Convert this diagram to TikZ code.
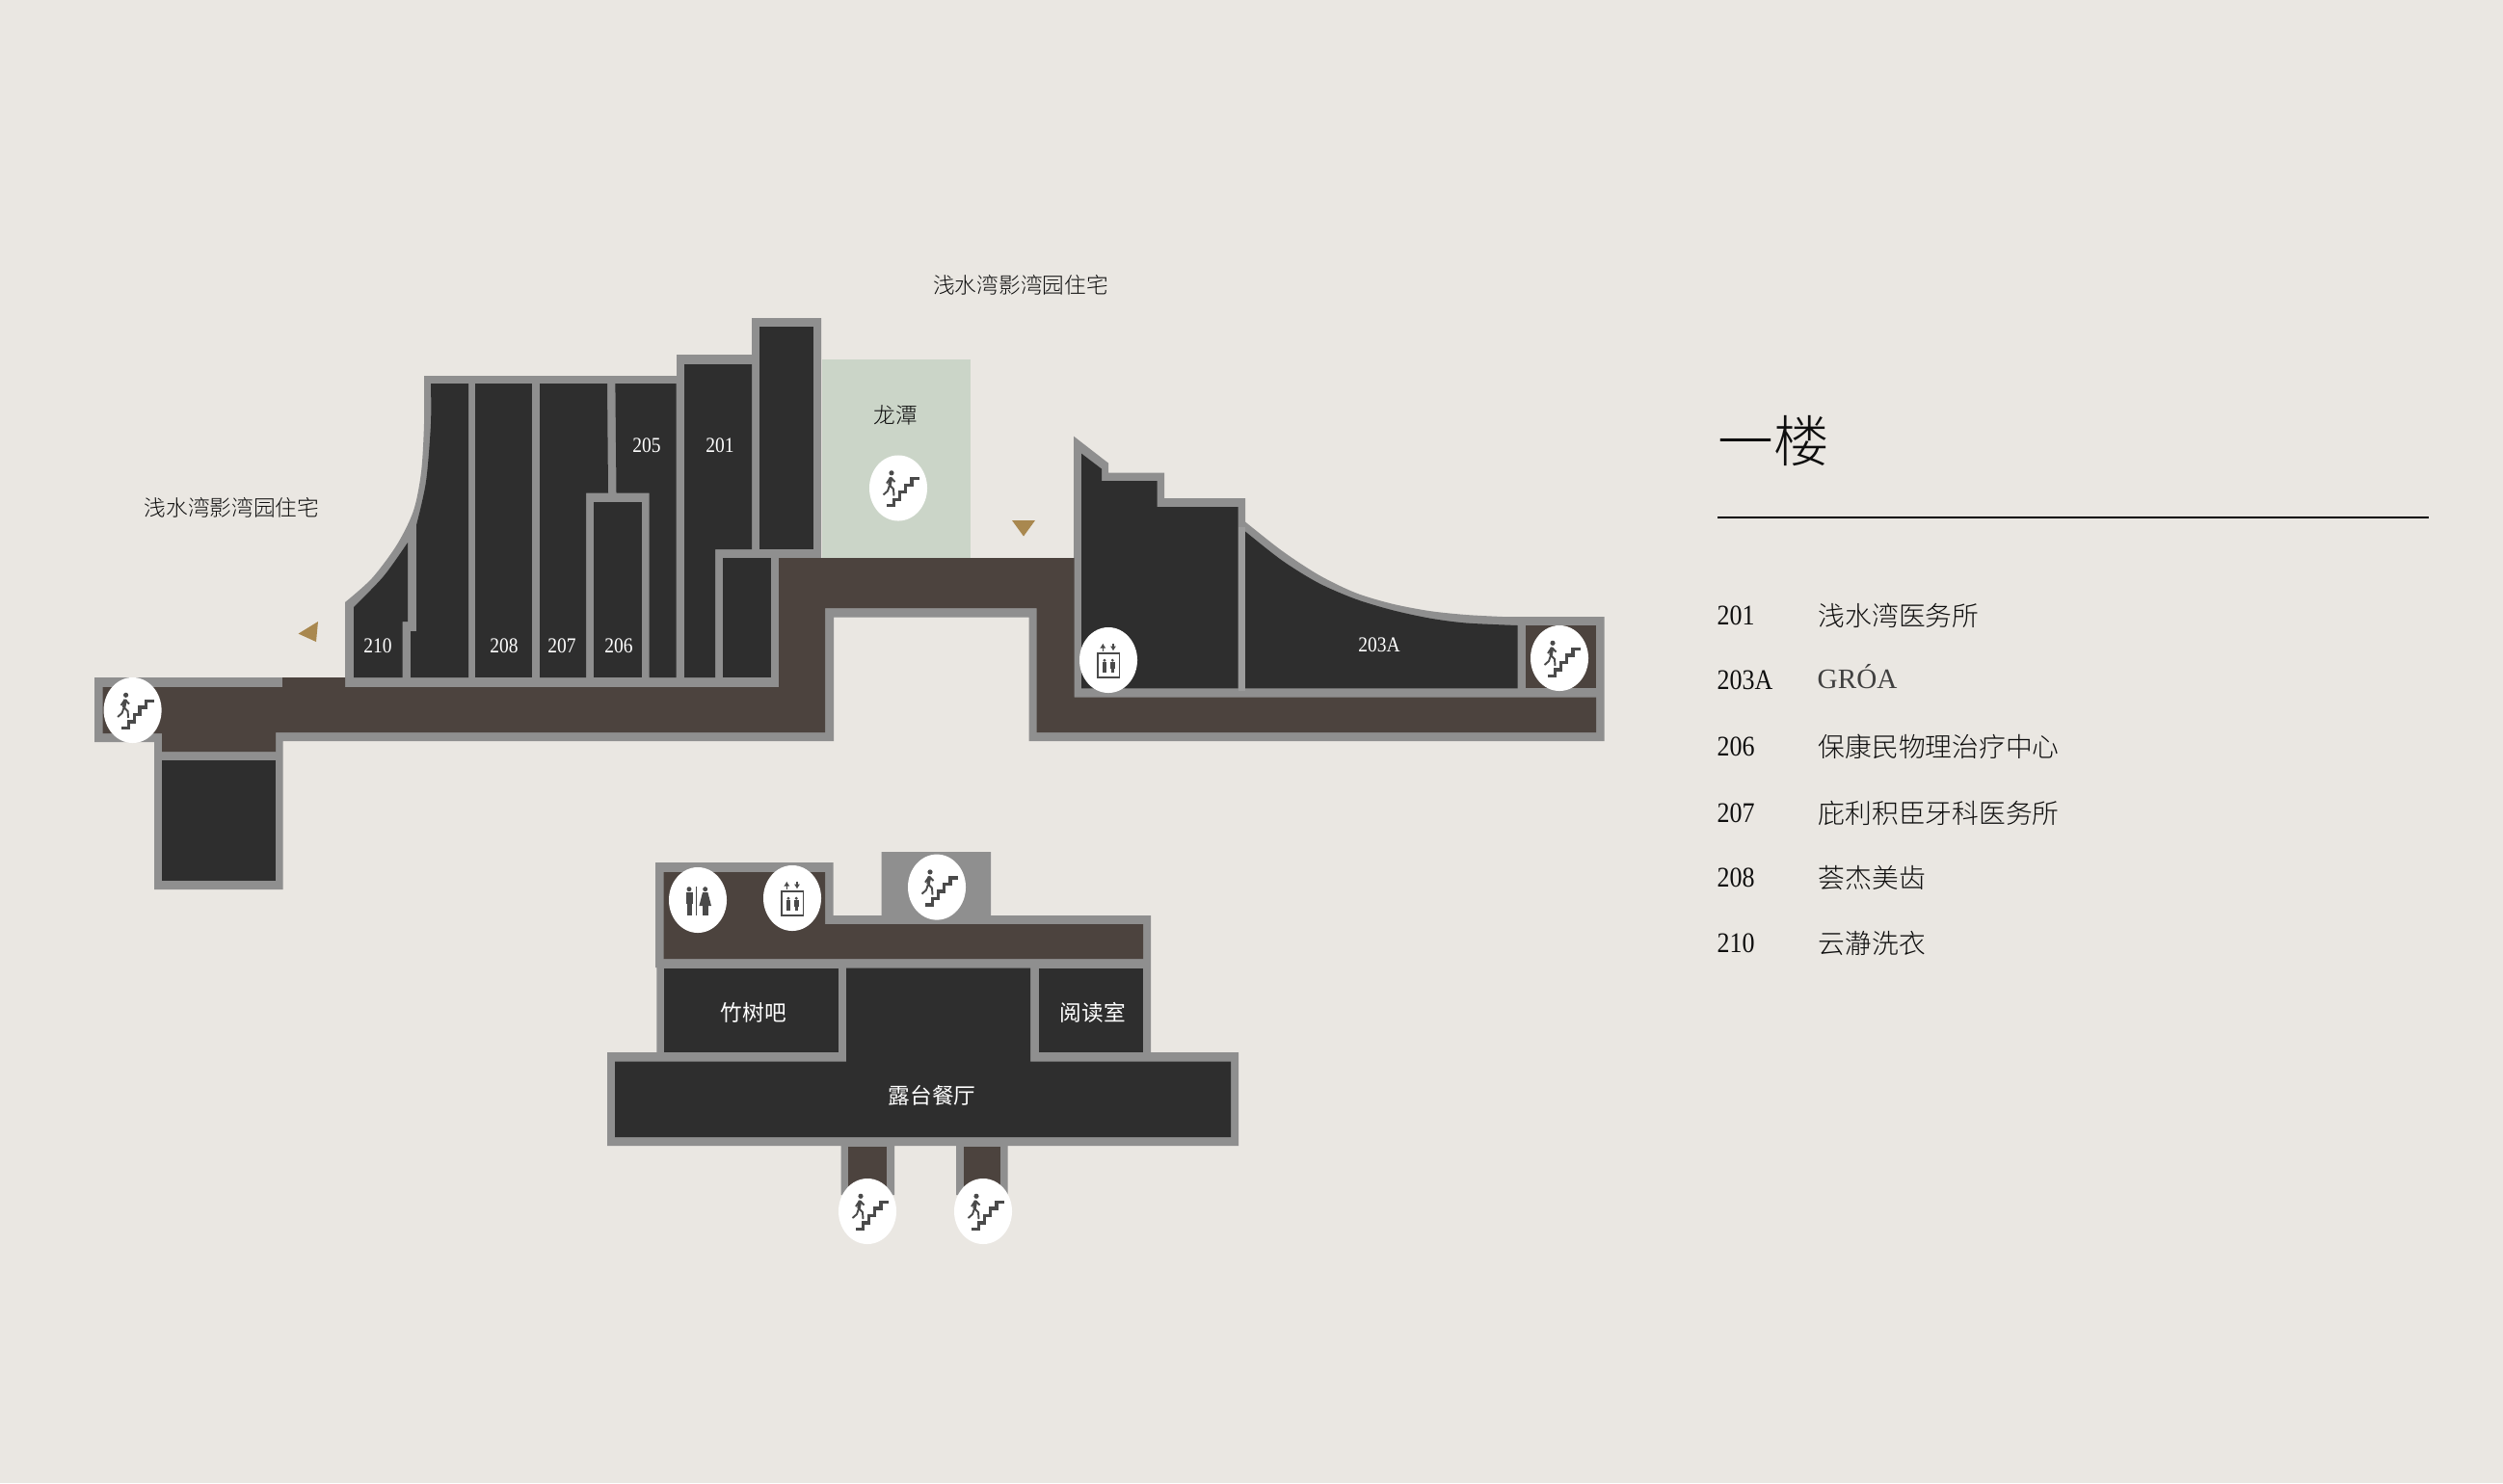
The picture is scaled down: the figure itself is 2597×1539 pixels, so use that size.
\documentclass[tikz,border=0pt]{standalone}
\usepackage{fontspec}
\setmainfont{Liberation Serif}
\newfontfamily\numfont[FakeStretch=0.88]{Liberation Serif}
\newfontfamily\cjk{Noto Sans CJK SC Light}
\newfontfamily\cjkwhite{Noto Sans CJK SC}
\usepackage{tikz}
\usetikzlibrary{arrows.meta, shapes.geometric}

\definecolor{paper}{HTML}{EAE7E2}
\definecolor{roomdark}{HTML}{2E2E2E}
\definecolor{halldark}{HTML}{4C433E}
\definecolor{wallgrey}{HTML}{8F8F8F}
\definecolor{walllight}{HTML}{9C9C9C}
\definecolor{garden}{HTML}{CBD5C8}
\definecolor{pointer}{HTML}{A9884F}
\definecolor{inkdark}{HTML}{0E0E0E}
\definecolor{icongrey}{HTML}{4A4A4A}

\tikzset{
	wall/.style={fill=wallgrey},
	hall/.style={fill=halldark},
	room/.style={fill=roomdark},
	disc/.style={ellipse, fill=white, minimum width=0.6cm, minimum height=0.68cm, inner sep=0pt},
	mapnum/.style={text=white, inner sep=0pt, font=\numfont\fontsize{6.3}{8}\selectfont},
	maptext/.style={text=inkdark, inner sep=0pt, font=\cjk\fontsize{6.45}{8}\selectfont},
	roomtext/.style={text=white, inner sep=0pt, font=\cjkwhite\fontsize{6.45}{8}\selectfont},
	keynum/.style={text=inkdark, anchor=west, inner sep=0pt, font=\numfont\fontsize{8.4}{10}\selectfont},
	keytext/.style={text=inkdark, anchor=west, inner sep=0pt, font=\cjk\fontsize{7.9}{10}\selectfont},
	stairicon/.pic={
		\draw[icongrey, line width=0.95pt, miter limit=2] (-11.7,18.3) -- (-4.3,18.3) -- (-4.3,12) -- (1.7,12) -- (1.7,4.3) -- (7.3,4.3) -- (7.3,-3) -- (14,-3) -- (14,-9.7) -- (22.3,-9.7);
		\fill[icongrey] (-7,-15.7) circle (2.6);
		\draw[icongrey, line width=1pt] (-7.5,-11) -- (-9,-3);
		\draw[icongrey, line width=0.55pt] (-9,-3) -- (-11,3) -- (-15.5,7)
			(-9,-3) -- (-5,1) -- (-4.5,8)
			(-8,-11) -- (-3.5,-6.5)
			(-8,-11) -- (-12,-5);
	},
	figure/.pic={
		\fill[icongrey] (0,-5.5) circle (1.6);
		\fill[icongrey] (-2.2,-3.5) rectangle (2.2,3);
		\fill[icongrey] (-1.6,3) rectangle (1.6,7.5);
	},
	lifticon/.pic={
		\draw[icongrey, line width=0.5pt] (-11,-6.7) rectangle (11.6,17.7);
		\draw[icongrey, line width=0.4pt, -{Latex[length=1.4pt,width=1.8pt]}] (-5.7,-9.5) -- (-5.7,-17.3);
		\draw[icongrey, line width=0.4pt, -{Latex[length=1.4pt,width=1.8pt]}] (5,-17.3) -- (5,-9.5);
		\pic at (-4,5.7) {figure};
		\pic at (4.3,5.7) {figure};
	},
	wcicon/.pic={
		\fill[icongrey] (-9,-11.3) circle (2.5);
		\fill[icongrey] (-12.5,-8) rectangle (-5.5,4);
		\fill[icongrey] (-11.5,4) rectangle (-6.5,16);
		\fill[icongrey] (-2.2,-14) rectangle (-0.6,16);
		\fill[icongrey] (7.7,-11.3) circle (2.5);
		\fill[icongrey] (5,-8) -- (10.4,-8) -- (14,6) -- (1.4,6) -- cycle;
		\fill[icongrey] (4.5,6) rectangle (11,16);
	},
}

\begin{document}
\begin{tikzpicture}[x=0.01cm, y=-0.01cm]
	\fill[paper] (0,0) rectangle (2597,1539);
	\useasboundingbox (0,0) rectangle (2597,1539);

	\fill[fill=garden] (853,373) rectangle (1006.6,579);

	% upper building
	\fill[wall] (98,703) -- (358,703) -- plot[smooth] coordinates {(358,625) (386,600) (412,565) (429,530) (437,490) (440,440) (440,390)}
		-- (702,390) -- (702,368) -- (780,368) -- (780,330) -- (852,330) -- (852,579) -- (1114,579) -- (1114,452.7)
		-- (1150,480.6) -- (1150,490.6) -- (1208,490.6) -- (1208,517) -- (1292,517)
		-- plot[smooth] coordinates {(1292,541.5) (1330,571.5) (1368,596.5) (1406,615) (1444,626.5) (1483,634) (1521,638) (1559,640)}
		-- (1664.5,640) -- (1664.5,769) -- (1067.5,769) -- (1067.5,640.5) -- (865,640.5) -- (865,769)
		-- (293.7,769) -- (293.7,923) -- (160,923) -- (160,770) -- (98,770) -- cycle;
	\fill[hall] (106.5,713) -- (293,713) -- (293,703) -- (358,703) -- (358,713) -- (808,713) -- (808,579) -- (1114.5,579) -- (1114.5,723.7)
		-- (1656,723.7) -- (1656,760) -- (1075.5,760) -- (1075.5,631) -- (856,631) -- (856,760) -- (286,760) -- (286,780) -- (168,780) -- (168,761) -- (106.5,761) -- cycle;
	\fill[room] (168,789) rectangle (286,914);

	% rooms of the west wing
	\fill[room] (367,703) -- (367,630) -- plot[smooth] coordinates {(367,630) (398,598) (423,563)} -- (423,645) -- (417.6,645) -- (417.6,703) -- cycle;
	\fill[room] (426,703) -- (426,655) -- (432,655) -- plot[smooth] coordinates {(432,545) (442,500) (447,440) (447,398)} -- (486,398) -- (486,703) -- cycle;
	\fill[room] (493.4,398) rectangle (551.8,703);
	\fill[room] (560,398) -- (630,398) -- (631,511.6) -- (608,511.6) -- (608,703) -- (560,703) -- cycle;
	\fill[room] (616,520.5) rectangle (666,703);
	\fill[room] (638.4,398) -- (701.7,398) -- (701.7,703) -- (673.6,703) -- (673.6,511.6) -- (639.5,511.6) -- cycle;
	\fill[room] (710,378) -- (780,378) -- (780,570) -- (742,570) -- (742,703) -- (710,703) -- cycle;
	\fill[room] (788,339) rectangle (844,570);
	\fill[room] (749.6,579) rectangle (800,703);

	% rooms of the east wing
	\fill[room] (1122,470.6) -- (1143,486.6) -- (1143,499) -- (1200.6,499) -- (1200.6,526) -- (1284.5,526) -- (1284.5,714.4) -- (1122,714.4) -- cycle;
	\fill[room] (1292,714.4) -- plot[smooth] coordinates {(1292,551.5) (1330,581.5) (1368,605) (1406,621.5) (1444,633) (1483,641.5) (1521,646.5) (1574.5,649)} -- (1574.5,714.4) -- cycle;
	\fill[hall] (1582.6,649) rectangle (1656,714.4);
	\fill[fill=walllight] (1284.5,546.6) rectangle (1292,717);

	% lower building
	\fill[wall] (680,895) -- (864.5,895) -- (864.5,950) -- (914.5,950) -- (914.5,884) -- (1028,884) -- (1028,950) -- (1194,950) -- (1194,1092)
		-- (1285,1092) -- (1285,1189) -- (1045.7,1189) -- (1045.7,1240) -- (992,1240) -- (992,1189) -- (928,1189) -- (928,1240) -- (872.5,1240) -- (872.5,1189)
		-- (630,1189) -- (630,1092) -- (681.4,1092) -- (681.4,1004) -- (680,1004) -- cycle;
	\fill[hall] (688.6,905) -- (856,905) -- (856,959) -- (1186,959) -- (1186,995) -- (688.6,995) -- cycle;
	\fill[room] (689,1004.5) rectangle (870,1092);
	\fill[room] (1078,1004.5) rectangle (1186,1092);
	\fill[room] (878,1004.5) -- (1069,1004.5) -- (1069,1101.5) -- (1277,1101.5) -- (1277,1180) -- (638,1180) -- (638,1101.5) -- (878,1101.5) -- cycle;
	\fill[hall] (880,1190) rectangle (920,1240);
	\fill[hall] (1000,1190) rectangle (1038,1240);

	% view pointers
	\fill[fill=pointer] (330,645) -- (309.5,657.6) -- (328,666) -- cycle;
	\fill[fill=pointer] (1050,540) -- (1074,540) -- (1062,556.5) -- cycle;

	% icons
	\node[disc] (stairwest) at (137.6,737) {};
	\node[disc] (stairgarden) at (932,506.5) {};
	\node[disc] (lifteast) at (1150,685) {};
	\node[disc] (staireast) at (1618,683) {};
	\node[disc] (toilet) at (724,934) {};
	\node[disc] (liftlower) at (822,932) {};
	\node[disc] (stairtop) at (972,920.6) {};
	\node[disc] (stairleft) at (900,1257) {};
	\node[disc] (stairright) at (1020,1257) {};
	\pic at (stairwest) {stairicon};
	\pic at (stairgarden) {stairicon};
	\pic at (lifteast) {lifticon};
	\pic at (staireast) {stairicon};
	\pic at (toilet) {wcicon};
	\pic at (liftlower) {lifticon};
	\pic at (stairtop) {stairicon};
	\pic at (stairleft) {stairicon};
	\pic at (stairright) {stairicon};

	% labels on the plan
	\node[mapnum] (n210) at (392,670) {210};
	\node[mapnum] (n208) at (523,670) {208};
	\node[mapnum] (n207) at (583,670) {207};
	\node[mapnum] (n206) at (642,670) {206};
	\node[mapnum] (n205) at (671,462) {205};
	\node[mapnum] (n201) at (747,462) {201};
	\node[mapnum] (n203a) at (1431,669) {203A};
	\node[maptext] (homesnorth) at (1059,296) {浅水湾影湾园住宅};
	\node[maptext] (homeswest) at (240.5,527) {浅水湾影湾园住宅};
	\node[maptext] (pond) at (929,430.5) {龙潭};
	\node[roomtext] (bar) at (782,1051) {竹树吧};
	\node[roomtext] (reading) at (1134,1051) {阅读室};
	\node[roomtext] (terrace) at (967,1137) {露台餐厅};

	% key
	\node[text=inkdark, anchor=west, inner sep=0pt, font=\cjk\fontsize{16.4}{20}\selectfont] (title) at (1782,458) {一楼};
	\coordinate (rulefrom) at (1782,537);
	\coordinate (ruleto) at (2520,537);
	\draw[line width=0.7pt, black] (rulefrom) -- (ruleto);
	\node[keynum] (k201) at (1781,639) {201};
	\node[keynum] (k203a) at (1781,706) {203A};
	\node[keynum] (k206) at (1781,775) {206};
	\node[keynum] (k207) at (1781,843.5) {207};
	\node[keynum] (k208) at (1781,911) {208};
	\node[keynum] (k210) at (1781,979) {210};
	\node[keytext] (v201) at (1886,639) {浅水湾医务所};
	\node[text=black!75, anchor=west, inner sep=0pt, font=\fontsize{8.3}{10}\selectfont] (v203a) at (1885,702) {GRÓA};
	\node[keytext] (v206) at (1886,775) {保康民物理治疗中心};
	\node[keytext] (v207) at (1886,843.5) {庇利积臣牙科医务所};
	\node[keytext] (v208) at (1886,911) {荟杰美齿};
	\node[keytext] (v210) at (1886,979) {云瀞洗衣};
\end{tikzpicture}
\end{document}
